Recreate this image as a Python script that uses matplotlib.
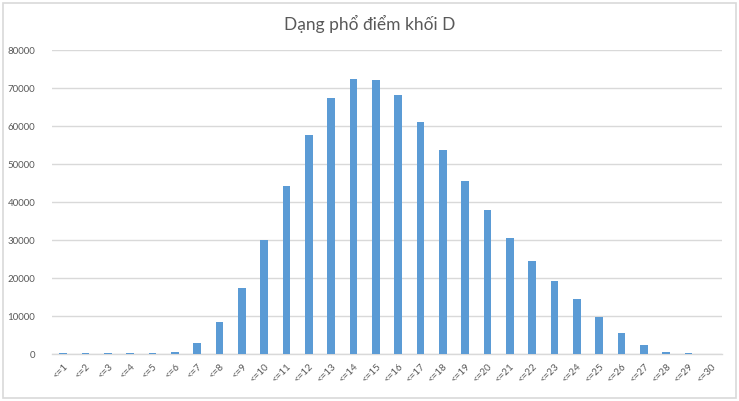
import matplotlib
matplotlib.use("Agg")
import matplotlib.pyplot as plt
from matplotlib.patches import Rectangle

title = "Dạng phổ điểm khối D"
categories = ["<=%d" % i for i in range(1, 31)]
values = [250, 250, 250, 250, 250, 600, 2800, 8400, 17400, 30000,
          44200, 57600, 67400, 72400, 72100, 68200, 61100, 53700, 45500, 37900,
          30500, 24400, 19200, 14400, 9700, 5500, 2400, 600, 250, 0]
yticks = [0, 10000, 20000, 30000, 40000, 50000, 60000, 70000, 80000]

plt.rcParams['font.family'] = ['Lato', 'DejaVu Sans']

fig = plt.figure(figsize=(7.39, 4.01), dpi=100)
fig.patches.append(Rectangle((3/739, 3/401), 733/739, 395/401, transform=fig.transFigure,
                             fill=False, edgecolor='#d9d9d9', linewidth=1.2))
ax = fig.add_axes([52/739, 1-354/401, (722-52)/739, (354-50)/401])

x = list(range(len(categories)))
ax.bar(x, values, width=0.33, color='#5B9BD5', zorder=3)
ax.set_xlim(-0.5, len(categories)-0.5)
ax.set_ylim(0, 80000)
ax.set_yticks(yticks)
ax.set_yticklabels([str(v) for v in yticks], fontsize=7, color='#595959')
ax.set_xticks(x)
ax.set_xticklabels(categories, rotation=45, ha='right', va='top', fontsize=7,
                   color='#595959', rotation_mode='anchor')
ax.tick_params(axis='both', length=0)
ax.tick_params(axis='y', pad=12)
ax.tick_params(axis='x', pad=6)
ax.grid(axis='y', color='#d9d9d9', linewidth=1, zorder=0)
for s in ['top', 'right', 'left']:
    ax.spines[s].set_visible(False)
ax.spines['bottom'].set_color('#d9d9d9')
ax.spines['bottom'].set_linewidth(1)

fig.text(370/739, 1-24/401, title, ha='center', va='center', fontsize=12.5, color='#595959')

fig.savefig('out.png', dpi=100)
